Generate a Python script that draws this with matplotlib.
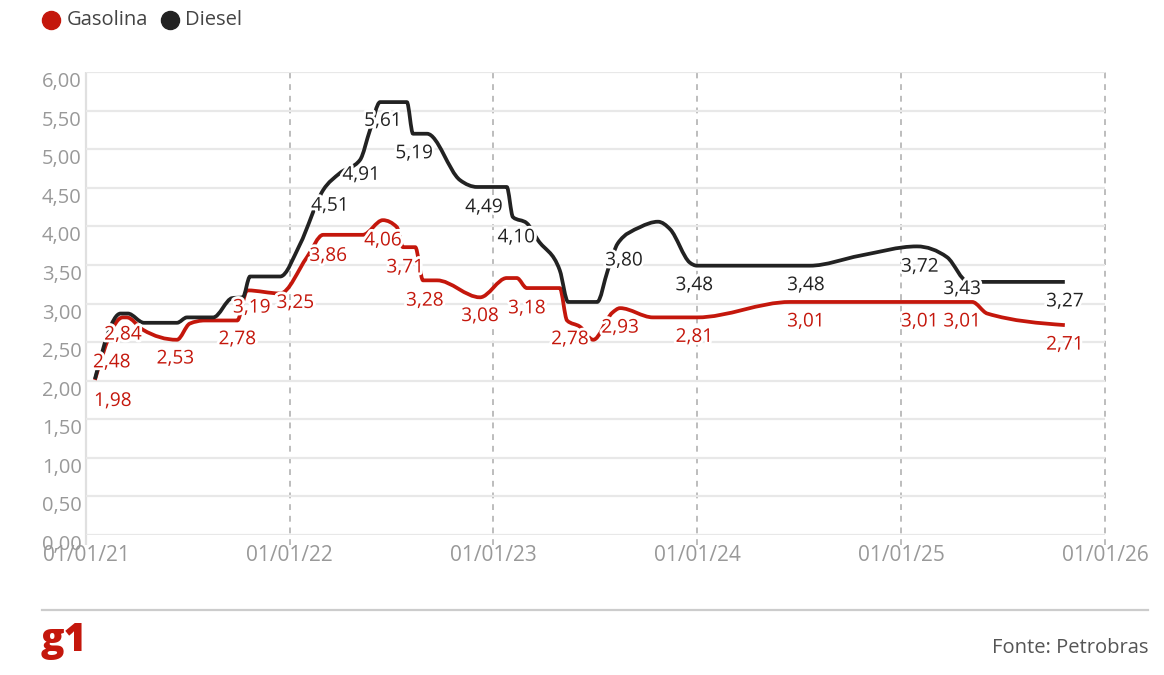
import numpy as np
import matplotlib
matplotlib.use("Agg")
import matplotlib.pyplot as plt
import matplotlib.dates as mdates
import matplotlib.patheffects as pe
from matplotlib.path import Path
from matplotlib.patches import PathPatch
from matplotlib.lines import Line2D

plt.rcParams['font.family'] = ['Open Sans', 'DejaVu Sans']

RED = '#c4170c'
DARK = '#222222'

# Linha da gasolina (R$/litro)
gas_dates = ['2021-01-17', '2021-03-08', '2021-03-15', '2021-04-13', '2021-06-13',
             '2021-07-06', '2021-08-02', '2021-09-29', '2021-10-17', '2021-12-15',
             '2022-02-01', '2022-03-02', '2022-05-12', '2022-06-17', '2022-07-12',
             '2022-07-23', '2022-08-14', '2022-08-28', '2022-09-22', '2022-12-08',
             '2023-01-25', '2023-02-12', '2023-03-02', '2023-04-30', '2023-05-13',
             '2023-06-05', '2023-06-29', '2023-08-02', '2023-08-16', '2023-10-14',
             '2024-01-01', '2024-06-16', '2025-05-08', '2025-06-04', '2025-10-21']
gas_values = [2.01, 2.82, 2.82, 2.66, 2.53,
              2.74, 2.78, 2.78, 3.17, 3.13,
              3.60, 3.89, 3.89, 4.08, 3.99,
              3.73, 3.73, 3.30, 3.30, 3.08,
              3.33, 3.33, 3.20, 3.20, 2.78,
              2.70, 2.53, 2.88, 2.94, 2.82,
              2.82, 3.02, 3.02, 2.87, 2.72]

# Linha do diesel
diesel_dates = ['2021-01-17', '2021-03-04', '2021-03-17', '2021-04-15', '2021-06-13',
                '2021-07-01', '2021-08-17', '2021-09-20', '2021-10-09', '2021-10-22',
                '2021-12-15', '2022-01-19', '2022-03-02', '2022-04-01', '2022-05-07',
                '2022-05-25', '2022-06-12', '2022-07-30', '2022-08-10', '2022-09-04',
                '2022-11-02', '2022-12-03', '2023-01-25', '2023-02-05', '2023-03-02',
                '2023-03-22', '2023-04-30', '2023-05-15', '2023-07-06', '2023-07-25',
                '2023-08-12', '2023-09-21', '2023-10-23', '2023-11-14', '2023-12-19',
                '2024-01-01', '2024-07-21', '2024-10-19', '2025-01-29', '2025-03-24',
                '2025-05-01', '2025-10-21']
diesel_values = [2.02, 2.87, 2.87, 2.75, 2.75,
                 2.82, 2.82, 3.07, 3.08, 3.35,
                 3.35, 3.76, 4.47, 4.69, 4.86,
                 5.25, 5.61, 5.61, 5.20, 5.20,
                 4.60, 4.51, 4.51, 4.12, 4.04,
                 3.82, 3.43, 3.02, 3.02, 3.43,
                 3.78, 3.99, 4.06, 3.96, 3.53,
                 3.49, 3.49, 3.62, 3.74, 3.60,
                 3.28, 3.28]

# Rótulos
gas_label_dates = ['2021-02-18', '2021-02-16', '2021-03-08', '2021-06-10', '2021-09-29',
                   '2021-10-25', '2022-01-11', '2022-03-11', '2022-06-17', '2022-07-27',
                   '2022-08-31', '2022-12-08', '2023-03-02', '2023-05-18', '2023-08-16',
                   '2023-12-27', '2024-07-14', '2025-02-03', '2025-04-20', '2025-10-21']
gas_label_values = [1.98, 2.48, 2.84, 2.53, 2.78,
                    3.19, 3.25, 3.86, 4.06, 3.71,
                    3.28, 3.08, 3.18, 2.78, 2.93,
                    2.81, 3.01, 3.01, 3.01, 2.71]
diesel_label_dates = ['2022-03-14', '2022-05-09', '2022-06-17', '2022-08-12', '2022-12-15',
                      '2023-02-11', '2023-08-23', '2023-12-27', '2024-07-14', '2025-02-03',
                      '2025-04-20', '2025-10-21']
diesel_label_values = [4.51, 4.91, 5.61, 5.19, 4.49,
                       4.10, 3.80, 3.48, 3.48, 3.72,
                       3.43, 3.27]

years = ['2021-01-01', '2022-01-01', '2023-01-01', '2024-01-01', '2025-01-01', '2026-01-01']
yticks = np.arange(0, 6.01, 0.5)


def fmt(v):
    return f'{v:.2f}'.replace('.', ',')


def monotone_path(dates, values):
    # mesma curva do d3.curveMonotoneX, em beziers cubicas
    x = mdates.datestr2num(dates)
    y = np.asarray(values, float)
    n = len(x)
    h = np.diff(x)
    s = np.diff(y) / h
    t = np.zeros(n)
    for i in range(1, n - 1):
        h0, h1, s0, s1 = h[i - 1], h[i], s[i - 1], s[i]
        p = (s0 * h1 + s1 * h0) / (h0 + h1)
        t[i] = (np.sign(s0) + np.sign(s1)) * min(abs(s0), abs(s1), 0.5 * abs(p))
    t[0] = (3 * s[0] - t[1]) / 2
    t[-1] = (3 * s[-1] - t[-2]) / 2
    verts = [(x[0], y[0])]
    codes = [Path.MOVETO]
    for i in range(n - 1):
        d = h[i] / 3
        verts += [(x[i] + d, y[i] + d * t[i]), (x[i + 1] - d, y[i + 1] - d * t[i + 1]),
                  (x[i + 1], y[i + 1])]
        codes += [Path.CURVE4] * 3
    return Path(verts, codes)


fig = plt.figure(figsize=(11.64, 6.75), dpi=100)
ax = fig.add_axes([86 / 1164, 140 / 675, 1019 / 1164, 463 / 675])

xs = mdates.datestr2num(years)
ax.set_xlim(xs[0], xs[-1])
ax.set_ylim(0, 6)

ax.set_yticks(yticks)
ax.set_yticklabels([fmt(v) for v in yticks])
ax.set_xticks(xs)
ax.set_xticklabels([mdates.num2date(v).strftime('%d/%m/%y') for v in xs])
ax.tick_params(length=0, labelcolor='#999999')
ax.tick_params(axis='y', pad=3, labelsize=14.5)
ax.tick_params(axis='x', pad=7, labelsize=15)
for lab in ax.get_yticklabels():
    lab.set_va('top')
for sp in ax.spines.values():
    sp.set_visible(False)

ax.grid(axis='y', color='#e8e8e8', lw=1.6, zorder=0)
ax.vlines(xs[0], -0.13, 6, color='#e0e0e0', lw=1.6, clip_on=False, zorder=1)
ax.vlines(xs[1:], -0.13, 6, color='#bdbdbd', lw=1.4, linestyles=(0, (3, 3)),
          clip_on=False, zorder=1)

for dates, values, color in [(gas_dates, gas_values, RED), (diesel_dates, diesel_values, DARK)]:
    ax.add_patch(PathPatch(monotone_path(dates, values), fill=False, edgecolor=color,
                           lw=2.7, capstyle='butt', joinstyle='round', zorder=3))

halo = [pe.withStroke(linewidth=4, foreground='white')]
for dates, values, color in [(gas_label_dates, gas_label_values, RED),
                             (diesel_label_dates, diesel_label_values, DARK)]:
    for d, v in zip(mdates.datestr2num(dates), values):
        ax.annotate(fmt(v), (d, v), xytext=(0, -13.5), textcoords='offset points',
                    ha='center', va='center', fontsize=13.7, color=color,
                    path_effects=halo, zorder=5, annotation_clip=False)

# legenda
fig.add_artist(Line2D([51 / 1164], [1 - 20 / 675], marker='o', ms=13, color=RED,
                      transform=fig.transFigure))
fig.text(67 / 1164, 1 - 20 / 675, 'Gasolina', fontsize=14.5, color='#444444', va='center')
fig.add_artist(Line2D([170 / 1164], [1 - 20 / 675], marker='o', ms=13, color=DARK,
                      transform=fig.transFigure))
fig.text(185 / 1164, 1 - 20 / 675, 'Diesel', fontsize=14.5, color='#444444', va='center')

# rodapé
fig.add_artist(Line2D([42 / 1164, 1148 / 1164], [1 - 610 / 675] * 2, color='#cccccc',
                      lw=1.6, transform=fig.transFigure))
fig.text(41 / 1164, 1 - 641 / 675, 'g1', fontsize=28, fontweight='heavy', color=RED,
         va='center')
fig.text(1148 / 1164, 1 - 648 / 675, 'Fonte: Petrobras', fontsize=14.5, color='#555555',
         ha='right', va='center')

fig.savefig('out.png', dpi=100)
